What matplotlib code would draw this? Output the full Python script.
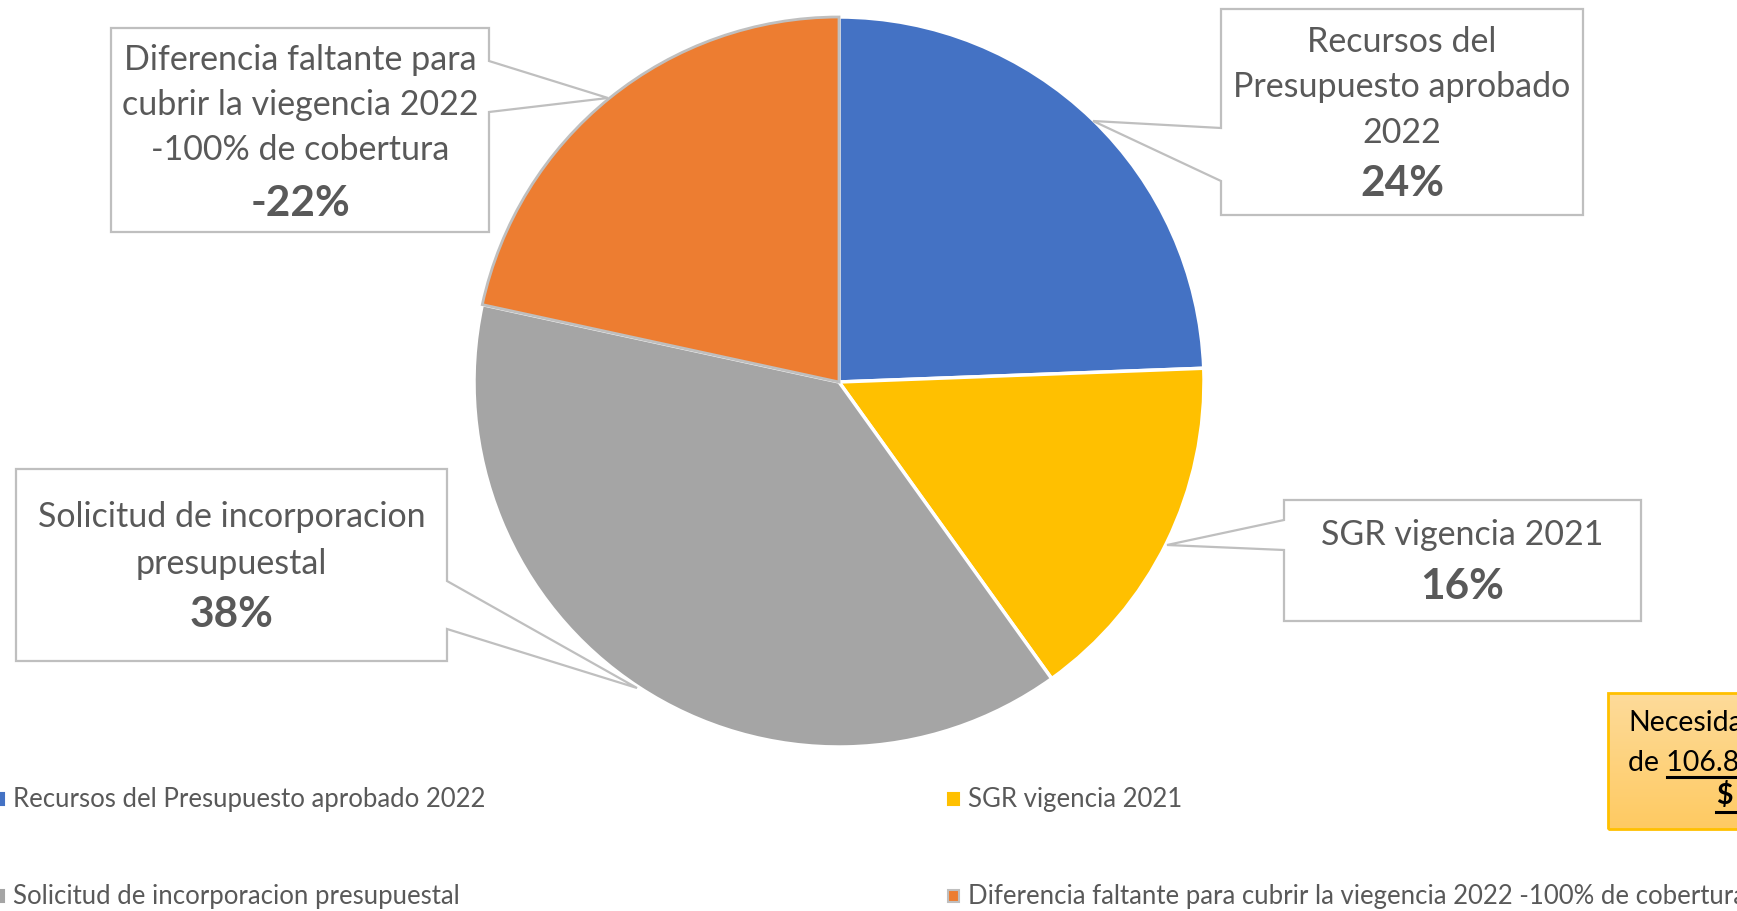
import matplotlib.pyplot as plt
from matplotlib.patches import Polygon, Rectangle
import numpy as np

W, H = 1737, 912

# data
categories = ["Recursos del Presupuesto aprobado 2022",
              "SGR vigencia 2021",
              "Solicitud de incorporacion presupuestal",
              "Diferencia faltante para cubrir la viegencia 2022 -100% de cobertura"]
shares = [24.4, 15.7, 38.3, -21.6]
colors = ["#4472C4", "#FFC000", "#A5A5A5", "#ED7D31"]
box_lines = [["Recursos del", "Presupuesto aprobado", "2022"],
             ["SGR vigencia 2021"],
             ["Solicitud de incorporacion", "presupuestal"],
             ["Diferencia faltante para", "cubrir la viegencia 2022", "-100% de cobertura"]]
note_lines = ["Necesidad", "de 106.8", "$"]

plt.rcParams['font.family'] = ['Lato', 'DejaVu Sans']
txt = "#595959"
edge = "#BFBFBF"

fig = plt.figure(figsize=(W / 100, H / 100), dpi=100)
ax = fig.add_axes([0, 0, 1, 1])

def fy(y):
    return H - y

cx, cy, R = 839, 383, 365
wedges, _ = ax.pie(np.abs(shares), colors=colors, startangle=90, counterclock=False,
                   center=(cx, fy(cy)), radius=R,
                   wedgeprops=dict(edgecolor="white", linewidth=2.5))
wedges[3].set_edgecolor(edge)
wedges[3].set_linewidth(2)
wedges[3].set_zorder(3)

# callout boxes: (x0, y0, x1, y1), side, notch, tip  -- image coords
callouts = [
    ((1221, 10, 1583, 216), "left", (129, 182), (1093, 122), [42, 87, 133], 184),
    ((1284, 501, 1641, 622), "left", (521, 551), (1167, 546), [535], 587),
    ((16, 470, 447, 662), "right", (582, 630), (637, 689), [517, 564], 615),
    ((111, 29, 489, 233), "right", (62, 113), (608, 99), [60, 105, 150], 204),
]

for i, (box, side, (n1, n2), tip, ys, pct_y) in enumerate(callouts):
    x0, y0, x1, y1 = box
    if side == "right":
        pts = [(x0, y0), (x1, y0), (x1, n1), tip, (x1, n2), (x1, y1), (x0, y1)]
    else:
        pts = [(x0, y0), (x1, y0), (x1, y1), (x0, y1), (x0, n2), tip, (x0, n1)]
    pts = [(px, fy(py)) for px, py in pts]
    ax.add_patch(Polygon(pts, closed=True, facecolor="white", edgecolor=edge,
                         linewidth=1.6, zorder=4))
    xm = (x0 + x1) / 2
    for line, yy in zip(box_lines[i], ys):
        ax.text(xm, fy(yy), line, ha="center", va="center", fontsize=24.5,
                color=txt, zorder=5)
    ax.text(xm, fy(pct_y), "%d%%" % round(shares[i]), ha="center", va="center",
            fontsize=30.5, fontweight="bold", color=txt, zorder=5)

# legend
leg_pos = [(13, 800), (968, 800), (13, 897), (968, 897)]
for i, (lx, ly) in enumerate(leg_pos):
    ec = edge if i == 3 else colors[i]
    ax.add_patch(Rectangle((lx - 20, fy(ly) - 6), 11, 12, facecolor=colors[i],
                           edgecolor=ec, linewidth=1.5, zorder=5))
    ax.text(lx, fy(ly), categories[i], ha="left", va="center", fontsize=18.5,
            color=txt, zorder=5)

# note box on the right edge
bx0, by0, bx1, by1 = 1608, 694, 1800, 830
grad = np.linspace(0, 1, 100)[:, None]
top = np.array([0xFD, 0xDB, 0x9A]) / 255
bot = np.array([0xFF, 0xCA, 0x62]) / 255
img = top + grad[..., None] * (bot - top)
ax.imshow(img, extent=(bx0, bx1, fy(by1), fy(by0)), aspect="auto", zorder=6)
ax.add_patch(Rectangle((bx0, fy(by1)), bx1 - bx0, by1 - by0, facecolor="none",
                       edgecolor="#FFC000", linewidth=2, zorder=7))
ax.text(1628, fy(723), note_lines[0], ha="left", va="center", fontsize=20.5,
        color="black", zorder=8)
ax.text(1628, fy(763), note_lines[1], ha="left", va="center", fontsize=20.5,
        color="black", zorder=8)
ax.text(1716, fy(796), note_lines[2], ha="left", va="center", fontsize=20.5,
        color="black", fontweight="bold", zorder=8)
ax.plot([1667, 1800], [fy(778), fy(778)], color="black", linewidth=2.2, zorder=8)
ax.plot([1716, 1800], [fy(813), fy(813)], color="black", linewidth=2.2, zorder=8)

ax.set_xlim(0, W)
ax.set_ylim(0, H)
ax.set_aspect("equal")
ax.set_axis_off()

fig.savefig("out.png", dpi=100)
